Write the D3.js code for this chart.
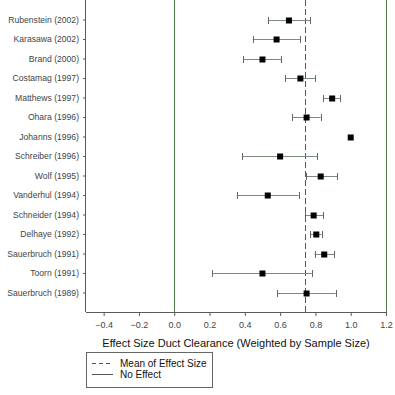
<!DOCTYPE html>
<html><head><meta charset="utf-8">
<script src="https://cdn.jsdelivr.net/npm/d3@7"></script>
<style>
html,body{margin:0;padding:0;background:#fff;}
svg{display:block;font-family:"Liberation Sans",Arial,sans-serif;}
</style></head>
<body>
<svg id="c" width="395" height="395"></svg>
<script>
const studies = ["Rubenstein (2002)","Karasawa (2002)","Brand (2000)","Costamag (1997)","Matthews (1997)","Ohara (1996)","Johanns (1996)","Schreiber (1996)","Wolf (1995)","Vanderhul (1994)","Schneider (1994)","Delhaye (1992)","Sauerbruch (1991)","Toorn (1991)","Sauerbruch (1989)"];
const effect = [0.65,0.58,0.50,0.715,0.895,0.75,1.0,0.60,0.83,0.53,0.79,0.805,0.85,0.50,0.75];
const lower  = [0.53,0.445,0.39,0.63,0.845,0.67,1.0,0.385,0.745,0.355,0.74,0.77,0.795,0.215,0.585];
const upper  = [0.77,0.715,0.605,0.80,0.94,0.83,1.0,0.81,0.925,0.705,0.845,0.835,0.905,0.78,0.915];
const xTicks = [-0.4,-0.2,0.0,0.2,0.4,0.6,0.8,1.0,1.2];
const meanEffect = 0.742;
const noEffect = 0;
const xTitle = "Effect Size Duct Clearance (Weighted by Sample Size)";
const legendLabels = ["Mean of Effect Size","No Effect"];

const svg = d3.select("#c");
const L = 86, R = 386, T = 0, B = 312;
const x = d3.scaleLinear().domain([-0.5,1.2]).range([L,R]);
const y = d3.scalePoint().domain(studies).range([T,B]).padding(1);

const axisCol = "#5a5a5a", greenCol = "#4f7f4f", whiskCol = "#7b8a7b", textCol = "#444";

svg.append("line").attr("x1",x(noEffect)).attr("x2",x(noEffect)).attr("y1",T).attr("y2",B)
  .attr("stroke",greenCol).attr("stroke-width",1).attr("shape-rendering","crispEdges");
svg.append("line").attr("x1",x(1.2)).attr("x2",x(1.2)).attr("y1",T).attr("y2",B)
  .attr("stroke",greenCol).attr("stroke-width",1).attr("shape-rendering","crispEdges");

svg.append("line").attr("x1",x(meanEffect)).attr("x2",x(meanEffect)).attr("y1",T).attr("y2",B)
  .attr("stroke","#555").attr("stroke-width",1).attr("stroke-dasharray","6,3").attr("shape-rendering","crispEdges");

const xAxis = d3.axisBottom(x).tickValues(xTicks).tickSize(4).tickFormat(d3.format(".1f"));
const gx = svg.append("g").attr("transform",`translate(0,${B})`).call(xAxis);
gx.select(".domain").attr("stroke",axisCol).attr("d",`M${L},0.5H${R}`).attr("shape-rendering","crispEdges");
gx.selectAll(".tick line").attr("stroke",axisCol);
gx.selectAll(".tick text").attr("fill",textCol).attr("font-size",9).attr("dy","1.0em");

const yAxis = d3.axisLeft(y).tickSize(3).tickPadding(4);
const gy = svg.append("g").attr("transform",`translate(${L},0)`).call(yAxis);
gy.select(".domain").attr("stroke",axisCol).attr("d",`M-0.5,${T}V${B}`).attr("shape-rendering","crispEdges");
gy.selectAll(".tick line").attr("stroke",axisCol);
gy.selectAll(".tick text").attr("fill",textCol).attr("font-size",8.6);
gy.attr("font-family",null);
gx.attr("font-family",null);

const g = svg.append("g");
studies.forEach((s,i) => {
  const yy = Math.round(y(s)) + 0.5;
  if (upper[i] > lower[i]) {
    g.append("line").attr("x1",x(lower[i])).attr("x2",x(upper[i])).attr("y1",yy).attr("y2",yy)
      .attr("stroke",whiskCol).attr("stroke-width",1);
    [lower[i],upper[i]].forEach(v => {
      g.append("line").attr("x1",Math.round(x(v))+0.5).attr("x2",Math.round(x(v))+0.5)
        .attr("y1",yy-3.5).attr("y2",yy+3.5).attr("stroke","#666").attr("stroke-width",1);
    });
  }
  g.append("rect").attr("x",x(effect[i])-3).attr("y",yy-3).attr("width",6).attr("height",6)
    .attr("fill","#000");
});

svg.append("text").attr("x",(L+R)/2).attr("y",347).attr("text-anchor","middle")
  .attr("font-size",11).attr("fill","#111").text(xTitle);

const lg = svg.append("g");
lg.append("rect").attr("x",86.5).attr("y",352.5).attr("width",126).attr("height",35)
  .attr("fill","none").attr("stroke","#666");
lg.append("line").attr("x1",92).attr("x2",113).attr("y1",363.5).attr("y2",363.5)
  .attr("stroke","#555").attr("stroke-dasharray","4,3");
lg.append("line").attr("x1",92).attr("x2",113).attr("y1",374.5).attr("y2",374.5)
  .attr("stroke","#555");
lg.selectAll("text.l").data(legendLabels).join("text").attr("class","l")
  .attr("x",120).attr("y",(d,i)=>367+i*11).attr("font-size",10).attr("fill","#111").text(d=>d);
</script>
</body></html>
